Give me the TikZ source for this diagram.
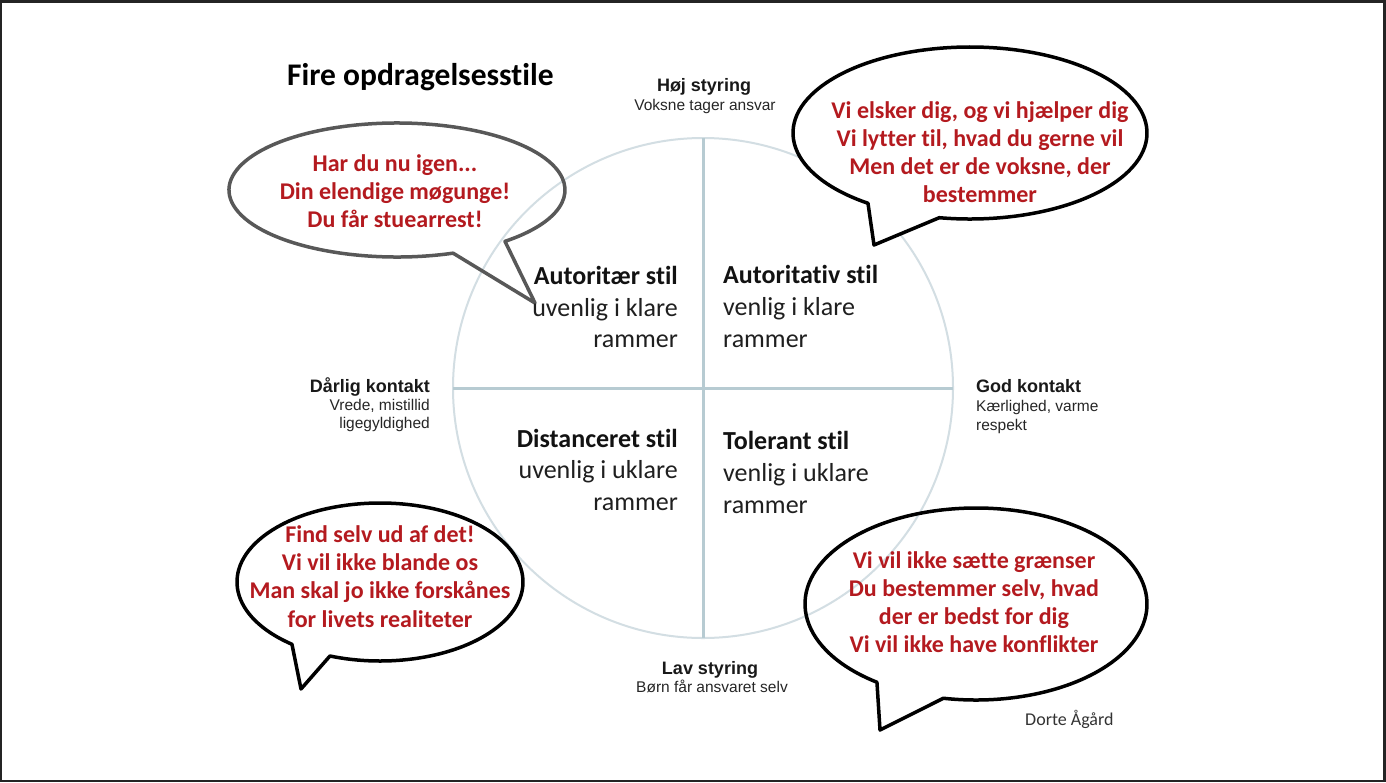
\documentclass[tikz,border=0pt]{standalone}
\usepackage{fontspec}
\setmainfont{Carlito}[Ligatures={NoCommon,NoRare,NoContextual}]
\newfontfamily\arialf{Liberation Sans}
\definecolor{framecol}{HTML}{242424}
\definecolor{ringcol}{HTML}{D3DEE3}
\definecolor{axiscol}{HTML}{B7CBD2}
\definecolor{speechred}{HTML}{B41A1F}
\definecolor{greyline}{HTML}{585858}
\definecolor{signcol}{HTML}{333333}
\begin{document}
\begin{tikzpicture}[x=1pt,y=-1pt,
  bubbletxt/.style={text=speechred, font=\fontsize{24}{28}\selectfont\bfseries, inner sep=0pt, anchor=base},
  styletitle/.style={font=\fontsize{26}{32}\selectfont\bfseries, text=black!93, inner sep=0pt},
  stylesub/.style={font=\fontsize{26}{32}\selectfont, text=black!88, inner sep=0pt},
  axisbold/.style={font=\arialf\fontsize{18}{20}\selectfont\bfseries, text=black!90, inner sep=0pt},
  axisreg/.style={font=\arialf\fontsize{15.5}{18}\selectfont, text=black!85, inner sep=0pt},
  bubbleline/.style={line width=3.5pt, line join=round},
]
% frame and background
\fill[framecol] (0,0) rectangle (1386,782);
\fill[white] (2,3) rectangle (1383,780);
\useasboundingbox (0,0) rectangle (1386,782);

% circle and axes
\coordinate (ctr) at (703,388);
\coordinate (axL) at (453,388);
\coordinate (axR) at (953,388);
\coordinate (axT) at (703,138);
\coordinate (axB) at (703,638);
\draw[ringcol, line width=2pt] (ctr) circle[radius=250];
\draw[axiscol, line width=3pt] (axL) -- (axR);
\draw[axiscol, line width=3pt] (axT) -- (axB);

% speech bubbles
\draw[bubbleline, draw=greyline] (397,190) ++(70.5:168 and 67)
  arc[start angle=70.5, end angle=410, x radius=168, y radius=67] -- (535,303) -- cycle;
\filldraw[bubbleline, fill=white] (970,133) ++(125.2:177 and 86)
  arc[start angle=125.2, end angle=460, x radius=177, y radius=86] -- (874,245) -- cycle;
\filldraw[bubbleline, fill=white] (380,582) ++(128:143 and 79)
  arc[start angle=128, end angle=470.5, x radius=143, y radius=79] -- (301,689) -- cycle;
\draw[bubbleline] (976,604) ++(125.4:171 and 96)
  arc[start angle=125.4, end angle=461, x radius=171, y radius=96] -- (880,730) -- cycle;

% title
\node[anchor=base west, inner sep=0pt, font=\fontsize{31.5}{36}\selectfont\bfseries] (title) at (287,85) {Fire opdragelsesstile};

% axis labels
\node[axisbold, anchor=base] (hoj) at (704,91) {Høj styring};
\node[axisreg, anchor=base] (hojsub) at (705,110) {Voksne tager ansvar};
\node[axisbold, anchor=base] (lav) at (710,674) {Lav styring};
\node[axisreg, anchor=base] (lavsub) at (712,692) {Børn får ansvaret selv};
\node[axisbold, anchor=base east] (darlig) at (430,392) {Dårlig kontakt};
\node[axisreg, anchor=base east] (darlig2) at (430,410) {Vrede, mistillid};
\node[axisreg, anchor=base east] (darlig3) at (430,428) {ligegyldighed};
\node[axisbold, anchor=base west] (god) at (976,392) {God kontakt};
\node[axisreg, anchor=base west] (god2) at (976,411) {Kærlighed, varme};
\node[axisreg, anchor=base west] (god3) at (976,430) {respekt};

% quadrant styles
\node[styletitle, anchor=base east] (q1a) at (678,284) {Autoritær stil};
\node[stylesub, anchor=base east] (q1b) at (678,316) {uvenlig i klare};
\node[stylesub, anchor=base east] (q1c) at (678,347) {rammer};
\node[styletitle, anchor=base west] (q2a) at (723,283) {Autoritativ stil};
\node[stylesub, anchor=base west] (q2b) at (723,315) {venlig i klare};
\node[stylesub, anchor=base west] (q2c) at (723,347) {rammer};
\node[styletitle, anchor=base east] (q3a) at (678,447) {Distanceret stil};
\node[stylesub, anchor=base east] (q3b) at (678,478) {uvenlig i uklare};
\node[stylesub, anchor=base east] (q3c) at (678,510) {rammer};
\node[styletitle, anchor=base west] (q4a) at (723,449) {Tolerant stil};
\node[stylesub, anchor=base west] (q4b) at (723,481) {venlig i uklare};
\node[stylesub, anchor=base west] (q4c) at (723,513) {rammer};

% bubble texts
\node[bubbletxt] (tl1) at (395,171) {Har du nu igen...};
\node[bubbletxt] (tl2) at (395,199) {Din elendige møgunge!};
\node[bubbletxt] (tl3) at (395,227) {Du får stuearrest!};
\node[bubbletxt] (tr1) at (980,118) {Vi elsker dig, og vi hjælper dig};
\node[bubbletxt] (tr2) at (980,146) {Vi lytter til, hvad du gerne vil};
\node[bubbletxt] (tr3) at (980,174) {Men det er de voksne, der};
\node[bubbletxt] (tr4) at (980,202) {bestemmer};
\node[bubbletxt] (bl1) at (380,542) {Find selv ud af det!};
\node[bubbletxt] (bl2) at (380,570) {Vi vil ikke blande os};
\node[bubbletxt] (bl3) at (380,598) {Man skal jo ikke forskånes};
\node[bubbletxt] (bl4) at (380,627) {for livets realiteter};
\node[bubbletxt] (br1) at (974,568) {Vi vil ikke sætte grænser};
\node[bubbletxt] (br2) at (974,596) {Du bestemmer selv, hvad};
\node[bubbletxt] (br3) at (974,624) {der er bedst for dig};
\node[bubbletxt] (br4) at (974,652) {Vi vil ikke have konflikter};

% signature
\node[anchor=base west, inner sep=0pt, text=signcol, font=\fontsize{18}{20}\selectfont] (sign) at (1025,725) {Dorte Ågård};
\end{tikzpicture}
\end{document}
